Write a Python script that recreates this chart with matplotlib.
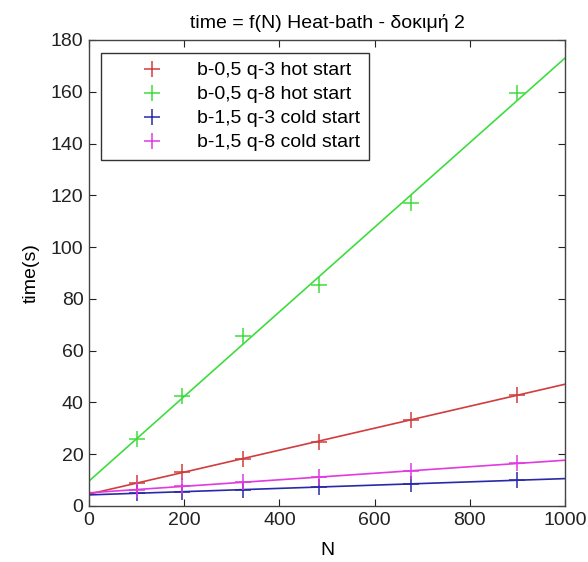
import numpy as np
import matplotlib.pyplot as plt

plt.rcParams['font.family'] = ['Liberation Sans', 'DejaVu Sans']

# lattice sizes (L^2) and run times in seconds
N = [100, 196, 324, 484, 676, 900]
t_b05_q3_hot = [8.8, 13.2, 18.2, 24.9, 33.3, 42.9]
t_b05_q8_hot = [25.7, 42.6, 65.5, 85.2, 117.1, 159.6]
t_b15_q3_cold = [4.9, 5.6, 6.3, 7.3, 8.5, 10.0]
t_b15_q8_cold = [6.3, 7.6, 9.3, 11.1, 13.5, 16.5]

labels = ['b-0,5 q-3 hot start', 'b-0,5 q-8 hot start',
          'b-1,5 q-3 cold start', 'b-1,5 q-8 cold start']
series = [t_b05_q3_hot, t_b05_q8_hot, t_b15_q3_cold, t_b15_q8_cold]
colors = ['#d23c3c', '#3fdc3f', '#2a2aa8', '#e03ae0']

fig = plt.figure(figsize=(5.88, 5.62), dpi=100)
ax = fig.add_axes([89 / 588, 56 / 562, 476 / 588, 466 / 562])

fs = 14
xfit = np.array([0, 1000])
for t, c, lab in zip(series, colors, labels):
    ax.plot(N, t, '+', color=c, markersize=11, markeredgewidth=1.1, label=lab)
    k, b = np.polyfit(N, t, 1)
    ax.plot(xfit, k * xfit + b, '-', color=c, linewidth=1.2)

ax.set_xlim(0, 1000)
ax.set_ylim(0, 180)
ax.set_xticks(range(0, 1001, 200))
ax.set_yticks(range(0, 181, 20))
ax.tick_params(direction='in', top=True, right=True, labelsize=fs,
               length=5, width=0.8, colors='#222222', pad=4)
for s in ax.spines.values():
    s.set_linewidth(1.0)
    s.set_color('#444444')

ax.set_xlabel('N', fontsize=fs, labelpad=10)
ax.set_ylabel('time(s)', fontsize=fs, labelpad=8)
ax.set_title('time = f(N) Heat-bath - δοκιμή 2', fontsize=fs, pad=9)

leg = ax.legend(loc='upper left', bbox_to_anchor=(0.025, 0.972), fontsize=fs,
                fancybox=False, framealpha=1, edgecolor='#333333',
                handlelength=4.4, handletextpad=0.1, labelspacing=0.33,
                borderpad=0.45, borderaxespad=0)
leg.get_frame().set_linewidth(1.0)

fig.savefig('out.png', dpi=100, facecolor='white')
